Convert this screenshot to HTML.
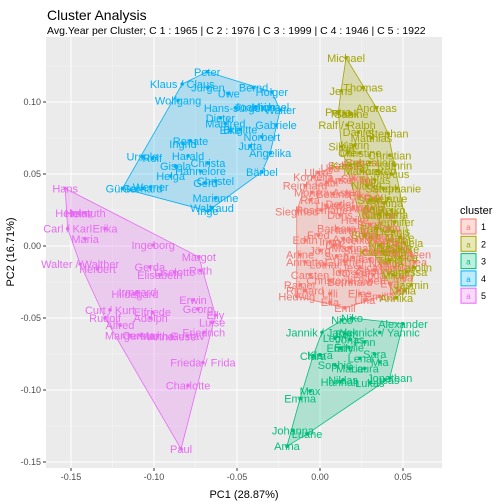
<!DOCTYPE html>
<html><head><meta charset="utf-8"><style>
body{margin:0;background:#fff;font-family:"Liberation Sans",Arial,sans-serif}
svg{display:block}
</style></head><body>
<svg id="chart" width="504" height="504" viewBox="0 0 504 504" xmlns="http://www.w3.org/2000/svg">
<text x="47" y="20" font-size="14" fill="#000" font-family="Liberation Sans, sans-serif">Cluster Analysis</text>
<text x="47" y="34" font-size="10.5" fill="#000" font-family="Liberation Sans, sans-serif">Avg.Year per Cluster; C 1 : 1965 | C 2 : 1976 | C 3 : 1999 | C 4 : 1946 | C 5 : 1922</text>
<g id="panel"></g>
<text x="244" y="498" font-size="11" text-anchor="middle" fill="#000" font-family="Liberation Sans, sans-serif">PC1 (28.87%)</text>
<text transform="translate(14,252) rotate(-90)" font-size="11" text-anchor="middle" fill="#000" font-family="Liberation Sans, sans-serif">PC2 (16.71%)</text>
<g id="legend"></g>
</svg>
<script>
const xTicks=[-0.15,-0.10,-0.05,0.00,0.05];
const yTicks=[0.10,0.05,0.00,-0.05,-0.10,-0.15];
const clusterIds=["1","2","3","4","5"];
const clusterColors=["#F8766D","#A3A500","#00BF7D","#00B0F6","#E76BF3"];
const c1Names=["Kornelia","Ulrike","Ulla","Sabine","Andrea","Reinhard","Monika","Rita","Siegfried","Rosemarie","Doris","Heike","Birgit","Karin","Edith","Fred","Arline","Jörg","Dirk","Martina","Susanne","Claudia","Kerstin","Marleen","Annette","Lothar","Günther","Jessica","Sandra","Nicole","Carsten","Christoph","Bernhard","Robert","Eva","Rainer","Richard","Lilli","Elias","Emilia","Hedwig","Ella","Emil","Lina","Leni","Thea",
"Gabi","Anke","Silke","Iris","Bettina","Astrid","Elke","Ralf","Uwe","Detlef","Marion","Angela","Gudrun","Barbara","Hartmut","Volker","Jürgen","Bernd","Ingo","Axel","Heiko","Kai","Marco","Olaf","Sven","Anja","Tanja","Nadine","Ida","Oskar","Frida","Mila"];
const c1X=[-0.004,-0.001,0.006,0.015,0.024,-0.009,-0.005,-0.006,-0.014,0.001,0.012,0.021,0.030,0.041,-0.009,-0.001,-0.012,0.000,0.009,0.018,0.027,0.036,0.045,0.055,-0.009,0.003,0.015,0.024,0.033,0.045,-0.006,0.006,0.018,0.030,0.042,-0.012,-0.009,0.006,0.024,0.036,-0.014,0.006,0.015,0.027,0.048,0.057,
0.004,0.012,0.020,0.028,0.008,0.016,0.024,0.032,0.004,0.012,0.020,0.028,0.036,0.010,0.018,0.026,0.034,0.042,0.006,0.014,0.022,0.030,0.038,0.046,0.010,0.020,0.030,0.040,0.012,0.022,0.032,0.050];
const c1Y=[0.048,0.051,0.054,0.056,0.058,0.042,0.037,0.032,0.024,0.025,0.0215,0.018,0.015,0.0125,0.004,0.0076,-0.006,-0.003,0.0007,-0.0014,-0.003,-0.004,-0.003,-0.006,-0.011,-0.013,-0.011,-0.015,-0.017,-0.015,-0.020,-0.024,-0.025,-0.024,-0.026,-0.027,-0.031,-0.033,-0.033,-0.035,-0.035,-0.039,-0.043,-0.0375,-0.031,-0.011,
0.044,0.046,0.047,0.045,0.036,0.037,0.035,0.033,0.028,0.029,0.027,0.026,0.022,0.012,0.011,0.009,0.007,0.004,0.003,0.005,0.004,0.006,0.002,0.001,-0.007,-0.008,-0.009,-0.012,-0.018,-0.019,-0.020,-0.022];
const c2Names=["Michael","Thomas","Jens","Andreas","Petra","Frank","Sabine","Ralf / Ralph","Stephan","Daniel","Matthias","Silvia","Katrin","Ute","Christine","Christian","Karsten","Sebastian","Kathrin","Marcus","Stephanie","Tobias","Melanie","Kristina","Heiko","Nadine","Jennifer","Maike","Daniela","Jessica","Carolin","Jasmin","Julia","Annika","Sven","Sonja","Nina","Tanja",
"Markus","Torsten","Nicole","Sandra","Anja","Christina","Patrick","Dennis","Katharina","Mareike","Mike","Vanessa"];
const c2X=[0.0157,0.026,0.0127,0.034,0.011,0.015,0.019,0.0163,0.041,0.023,0.031,0.013,0.021,0.017,0.024,0.042,0.018,0.030,0.045,0.043,0.046,0.033,0.041,0.039,0.043,0.036,0.045,0.048,0.051,0.048,0.057,0.055,0.051,0.046,0.030,0.027,0.036,0.042,
0.025,0.035,0.028,0.038,0.032,0.040,0.034,0.044,0.038,0.048,0.044,0.052];
const c2Y=[0.1306,0.110,0.1076,0.096,0.093,0.092,0.0917,0.084,0.078,0.079,0.075,0.069,0.070,0.065,0.0646,0.063,0.056,0.058,0.056,0.050,0.040,0.046,0.033,0.030,0.025,0.0215,0.0167,0.006,0.002,-0.008,-0.015,-0.027,-0.031,-0.036,0.032,0.0076,0.0007,-0.010,
0.052,0.052,0.042,0.040,0.026,0.022,0.012,0.010,-0.004,-0.002,-0.020,-0.018];
const c3Names=["Alexander","Nico","Niko","Jannik / Janick","Yannick / Yannic","Ben","Leon","Jonas","Finn","Emily","Emilie","Clara","Klara","Sara","Lena","Sophie","Marie","Laura","Mia","Niklas","Hannah","Lukas","Lucas","Jonathan","Max","Emma","Johanna","Luane","Anna"];
const c3X=[0.050,0.0133,0.0193,0.0012,0.036,0.015,0.009,0.018,0.027,0.012,0.0175,-0.0042,0.000,0.033,0.024,0.009,0.018,0.027,0.036,0.0139,0.012,0.030,0.039,0.042,-0.006,-0.012,-0.0163,-0.0078,-0.0199];
const c3Y=[-0.054,-0.0514,-0.050,-0.060,-0.060,-0.061,-0.064,-0.065,-0.0667,-0.071,-0.0705,-0.0764,-0.0757,-0.075,-0.078,-0.0826,-0.085,-0.085,-0.0806,-0.093,-0.0944,-0.095,-0.093,-0.0917,-0.1007,-0.106,-0.128,-0.1306,-0.139];
const c4Names=["Peter","Klaus / Claus","Jürgen","Uwe","Bernd","Holger","Wolfgang","Hans-Jürgen","Joachim","Michael","Walter","Dieter","Manfred","Elke","Brigitte","Gabriele","Norbert","Renate","Ingrid","Jutta","Angelika","Harald","Ursula","Rolf","Christa","Gisela","Hannelore","Bärbel","Helga","Christel","Gerd","Günter","Gerhard","Werner","Marianne","Waltraud","Inge"];
const c4X=[-0.068,-0.083,-0.0675,-0.055,-0.040,-0.029,-0.0855,-0.051,-0.039,-0.030,-0.024,-0.060,-0.057,-0.054,-0.048,-0.0265,-0.035,-0.078,-0.0825,-0.042,-0.030,-0.0795,-0.107,-0.101,-0.0675,-0.087,-0.072,-0.035,-0.090,-0.063,-0.069,-0.119,-0.107,-0.102,-0.063,-0.065,-0.0675];
const c4Y=[0.121,0.1125,0.110,0.106,0.110,0.107,0.101,0.096,0.0965,0.0965,0.0945,0.089,0.085,0.0805,0.081,0.084,0.0757,0.073,0.071,0.0694,0.0646,0.0625,0.062,0.061,0.0576,0.0556,0.052,0.0514,0.0486,0.045,0.0437,0.040,0.040,0.041,0.0333,0.0264,0.0243];
const c5Names=["Hans","Helmut","Helmuth","Heinz","Carl / Karl","Erika","Maria","Ingeborg","Walter / Walther","Herbert","Margot","Gerda","Ruth","Liselotte","Elisabeth","Hildegard","Irmgard","Erwin","Georg","Curt / Kurt","Elfriede","Adolph","Elly","Luise","Rudolf","Alfred","Margarete","Gertrud","Martha","Anneliese","Gustav","Friedrich","Frieda / Frida","Charlotte","Paul"];
const c5X=[-0.1535,-0.149,-0.1415,-0.145,-0.152,-0.1295,-0.1415,-0.1005,-0.1445,-0.134,-0.073,-0.1025,-0.072,-0.0875,-0.0965,-0.1115,-0.110,-0.0765,-0.0735,-0.1265,-0.101,-0.102,-0.063,-0.065,-0.1295,-0.1205,-0.1145,-0.108,-0.098,-0.089,-0.080,-0.070,-0.0705,-0.0795,-0.0837];
const c5Y=[0.040,0.023,0.023,0.0225,0.012,0.012,0.005,0.0007,-0.0125,-0.016,-0.0076,-0.0146,-0.017,-0.018,-0.020,-0.0333,-0.032,-0.0375,-0.0437,-0.0444,-0.046,-0.050,-0.048,-0.053,-0.050,-0.055,-0.062,-0.062,-0.0625,-0.063,-0.0625,-0.060,-0.081,-0.097,-0.141];
const allNames=[c1Names,c2Names,c3Names,c4Names,c5Names];
const allX=[c1X,c2X,c3X,c4X,c5X];
const allY=[c1Y,c2Y,c3Y,c4Y,c5Y];

const NS="http://www.w3.org/2000/svg";
const PL=46,PR=442,PT=37,PB=468;
const X0=-0.16506,X1=0.07349,Y0=-0.15417,Y1=0.14514;
const sx=v=>PL+(v-X0)/(X1-X0)*(PR-PL);
const sy=v=>PB-(v-Y0)/(Y1-Y0)*(PB-PT);
function mk(tag,attrs,parent){const e=document.createElementNS(NS,tag);for(const k in attrs)e.setAttribute(k,attrs[k]);parent.appendChild(e);return e;}
const panel=document.getElementById('panel');
const bg=mk('rect',{x:PL,y:PT,width:PR-PL,height:PB-PT,fill:'#EBEBEB'},panel);


for(let i=0;i<xTicks.length+1;i++){const v=xTicks[0]-0.025+i*0.05;if(v>X0&&v<X1){const l=mk('line',{x1:sx(v),x2:sx(v),y1:PT,y2:PB,stroke:'#F5F5F5','stroke-width':0.5},panel);}}
for(let i=0;i<yTicks.length+1;i++){const v=yTicks[0]+0.025-i*0.05;if(v>Y0&&v<Y1){const l=mk('line',{x1:PL,x2:PR,y1:sy(v),y2:sy(v),stroke:'#F5F5F5','stroke-width':0.5},panel);}}
xTicks.forEach(v=>{const l=mk('line',{x1:sx(v),x2:sx(v),y1:PT,y2:PB,stroke:'#fff','stroke-width':1},panel);
 const t=mk('line',{x1:sx(v),x2:sx(v),y1:PB,y2:PB+3,stroke:'#333','stroke-width':1},panel);
 const tx=mk('text',{x:sx(v),y:PB+12,'font-size':9,'text-anchor':'middle',fill:'#4D4D4D'},panel);tx.textContent=v.toFixed(2);});
yTicks.forEach(v=>{const l=mk('line',{x1:PL,x2:PR,y1:sy(v),y2:sy(v),stroke:'#fff','stroke-width':1},panel);
 const t=mk('line',{x1:PL-3,x2:PL,y1:sy(v),y2:sy(v),stroke:'#333','stroke-width':1},panel);
 const tx=mk('text',{x:PL-5,y:sy(v)+3,'font-size':9,'text-anchor':'end',fill:'#4D4D4D'},panel);tx.textContent=v.toFixed(2);});
function hull(pts){pts=pts.slice().sort((a,b)=>a[0]-b[0]||a[1]-b[1]);const cr=(o,a,b)=>(a[0]-o[0])*(b[1]-o[1])-(a[1]-o[1])*(b[0]-o[0]);const lo=[],up=[];for(const p of pts){while(lo.length>=2&&cr(lo[lo.length-2],lo[lo.length-1],p)<=0)lo.pop();lo.push(p);}for(let i=pts.length-1;i>=0;i--){const p=pts[i];while(up.length>=2&&cr(up[up.length-2],up[up.length-1],p)<=0)up.pop();up.push(p);}up.pop();lo.pop();return lo.concat(up);}
const order=[0,1,2,3,4];
order.forEach(c=>{const pts=allX[c].map((x,i)=>[sx(x),sy(allY[c][i])]);const h=hull(pts);
 const p=mk('polygon',{points:h.map(q=>q.join(',')).join(' '),fill:clusterColors[c],'fill-opacity':0.25,stroke:clusterColors[c],'stroke-width':0.8},panel);
 
 });
order.forEach(c=>{allX[c].forEach((x,i)=>{const cx=sx(x),cy=sy(allY[c][i]);
 const d=mk('circle',{cx:cx,cy:cy,r:1.8,fill:clusterColors[c]},panel);
 
 
 const t=mk('text',{x:cx,y:cy+4,'font-size':11,'text-anchor':'middle',fill:clusterColors[c]},panel);t.textContent=allNames[c][i];
 
 });});
const lg=document.getElementById('legend');
const lt=mk('text',{x:460,y:214,'font-size':11,fill:'#000'},lg);lt.textContent='cluster';


clusterIds.forEach((id,i)=>{const y=218+i*17.3;
 mk('rect',{x:460.5,y:y+0.5,width:16,height:16,fill:'#fff',stroke:'none'},lg);
 const r2=mk('rect',{x:461,y:y+1,width:15,height:15,fill:clusterColors[i],'fill-opacity':0.25,stroke:clusterColors[i],'stroke-width':1},lg);
 
 
 const a=mk('text',{x:468.5,y:y+12,'font-size':8,'text-anchor':'middle',fill:clusterColors[i]},lg);a.textContent='a';
 const lb=mk('text',{x:481,y:y+12,'font-size':9,fill:'#000'},lg);lb.textContent=id;
 
 });
</script>
</body></html>
